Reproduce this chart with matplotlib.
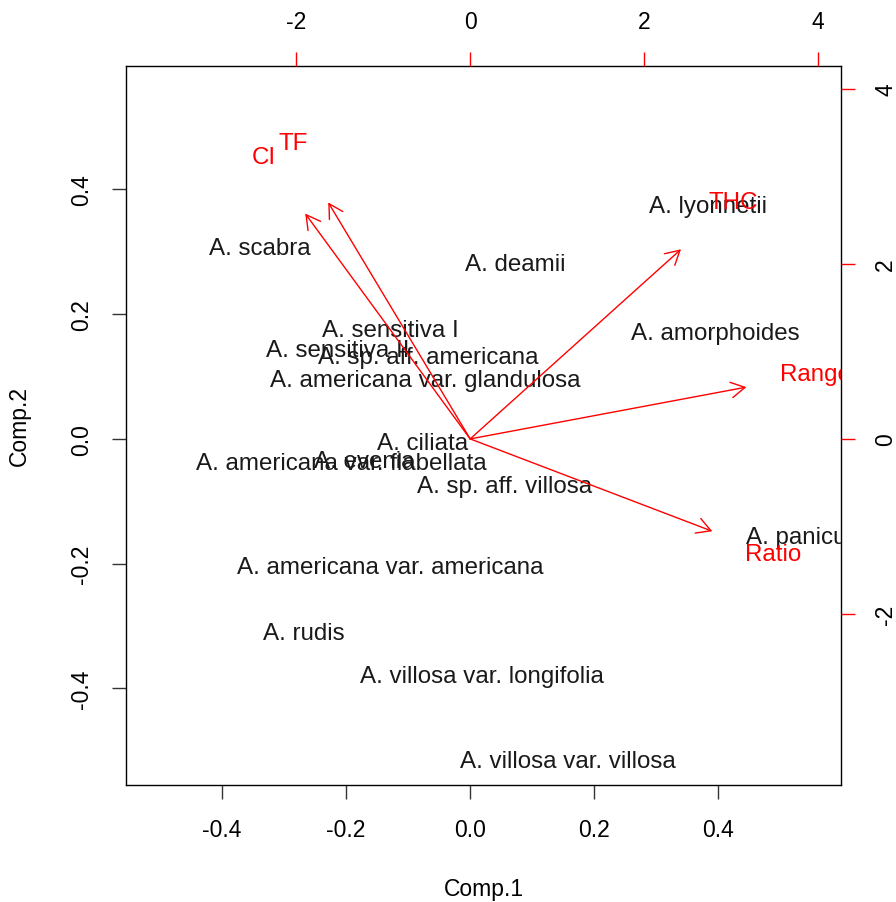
import matplotlib
matplotlib.use('Agg')
import matplotlib.pyplot as plt

plt.rcParams['font.family'] = ['Liberation Sans', 'DejaVu Sans']
plt.rcParams['axes.unicode_minus'] = False

# PCA scores (Comp.1, Comp.2) for each taxon
species = [
    'A. scabra', 'A. deamii', 'A. lyonnetii', 'A. amorphoides',
    'A. sensitiva I', 'A. sensitiva II', 'A. sp. aff. americana',
    'A. americana var. glandulosa', 'A. ciliata',
    'A. americana var. flabellata', 'A. evenia', 'A. sp. aff. villosa',
    'A. americana var. americana', 'A. rudis', 'A. villosa var. longifolia',
    'A. villosa var. villosa', 'A. paniculata',
]
comp1 = [-0.340, 0.073, 0.384, 0.395, -0.129, -0.213, -0.068, -0.073, -0.077,
         -0.208, -0.171, 0.056, -0.129, -0.268, 0.019, 0.158, 0.557]
comp2 = [0.306, 0.281, 0.373, 0.170, 0.175, 0.143, 0.131, 0.094, -0.007,
         -0.038, -0.035, -0.075, -0.206, -0.312, -0.381, -0.516, -0.157]

# variable loadings
variables = ['CI', 'TF', 'THC', 'Range', 'Ratio']
load1 = [-2.37, -2.04, 3.03, 3.97, 3.48]
load2 = [3.22, 3.38, 2.71, 0.74, -1.32]

lim = (-0.555, 0.598)
scale = 7.13          # loadings units per score unit
arrow_frac = 0.8      # arrows stop at 80% of the label position
fs = 16.5             # axis text
fs_lab = 17.4         # point and variable labels

fig = plt.figure(figsize=(8.96, 9.03), dpi=100)
pos = [126 / 896, (903 - 786) / 903, 715 / 896, 719 / 903]
ax = fig.add_axes(pos)
ax.set_xlim(lim)
ax.set_ylim(lim)
ax.set_xticks([-0.4, -0.2, 0.0, 0.2, 0.4])
ax.set_yticks([-0.4, -0.2, 0.0, 0.2, 0.4])
ax.set_xticklabels(['-0.4', '-0.2', '0.0', '0.2', '0.4'])
ax.set_yticklabels(['-0.4', '-0.2', '0.0', '0.2', '0.4'])
ax.tick_params(length=10, width=1, pad=14, labelsize=fs, color='#333333')
for lab in ax.get_yticklabels():
    lab.set_rotation(90)
    lab.set_va('center')
for sp in ax.spines.values():
    sp.set_color('black')
    sp.set_linewidth(1)
ax.set_xlabel('Comp.1', fontsize=fs, labelpad=26)
ax.set_ylabel('Comp.2', fontsize=fs, labelpad=28)

for name, x, y in zip(species, comp1, comp2):
    ax.text(x, y, name, fontsize=fs_lab, color='#1a1a1a', ha='center',
            va='center', clip_on=True)

# second coordinate system for the loadings
ax2 = fig.add_axes(pos, frameon=False)
ax2.patch.set_visible(False)
ax2.set_xlim(lim[0] * scale, lim[1] * scale)
ax2.set_ylim(lim[0] * scale, lim[1] * scale)
ax2.xaxis.set_ticks_position('top')
ax2.yaxis.set_ticks_position('right')
ax2.set_xticks([-2, 0, 2, 4])
ax2.set_yticks([-2, 0, 2, 4])
ax2.tick_params(length=10, width=1, pad=14, labelsize=fs, color='red')
for lab in ax2.get_yticklabels():
    lab.set_rotation(90)
    lab.set_va('center')

for name, x, y in zip(variables, load1, load2):
    ax2.annotate('', xy=(x * arrow_frac, y * arrow_frac), xytext=(0, 0),
                 arrowprops=dict(arrowstyle='->,head_length=0.5,head_width=0.28',
                                 mutation_scale=20, color='red', lw=1,
                                 shrinkA=0, shrinkB=0))
    ax2.text(x, y, name, fontsize=fs_lab, color='red', ha='center',
             va='center', clip_on=True)

fig.savefig('out.png', dpi=100)
